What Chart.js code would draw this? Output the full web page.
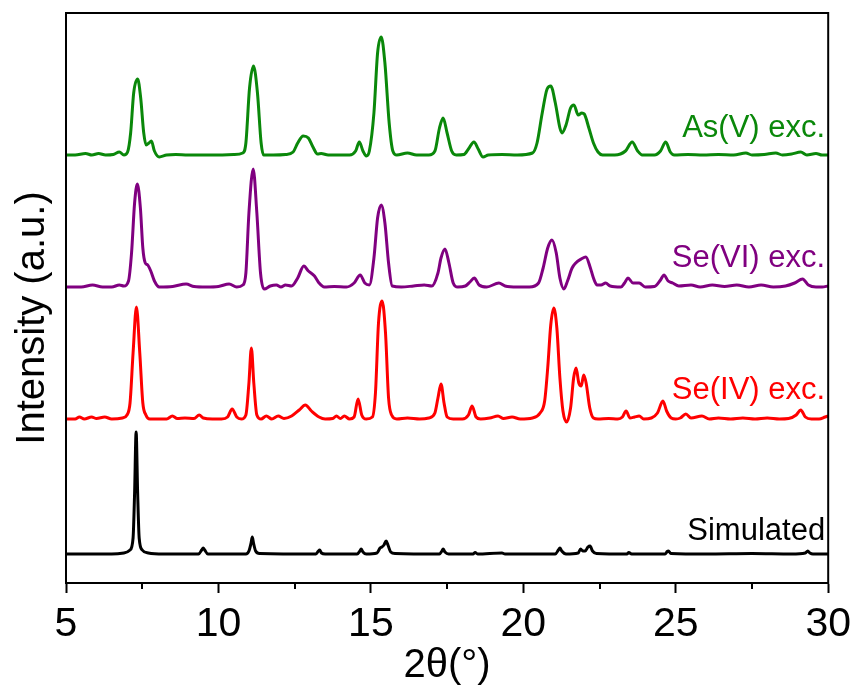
<!DOCTYPE html>
<html>
<head>
<meta charset="utf-8">
<script src="https://cdn.jsdelivr.net/npm/chart.js@4.4.0/dist/chart.umd.min.js"></script>
<style>
    html, body { margin: 0; padding: 0; background: #ffffff; }
    #wrap { width: 858px; height: 690px; }
</style>
</head>
<body>
<div id="wrap"><canvas id="xrdChart"></canvas></div>
<script>
// XRD patterns, stacked with offsets (a.u.)
const seriesNames = ['Simulated', 'Se(IV) exc.', 'Se(VI) exc.', 'As(V) exc.'];
const seriesColors = ['#000000', '#ff0000', '#800080', '#0a880a'];

const simulatedX = [5.0, 6.5, 6.9, 7.1, 7.2, 7.25, 7.3, 7.35, 7.4, 7.5, 7.7, 8.2, 9.35, 9.45, 9.5, 9.55, 9.65, 10.9, 11.0, 11.07, 11.11, 11.15, 11.22, 11.35, 13.2, 13.28, 13.32, 13.38, 13.5, 14.55, 14.64, 14.68, 14.74, 14.85, 15.2, 15.3, 15.36, 15.43, 15.5, 15.56, 15.65, 15.8, 17.25, 17.33, 17.37, 17.43, 17.55, 18.35, 18.42, 18.5, 19.3, 19.4, 21.05, 21.15, 21.2, 21.26, 21.4, 21.8, 21.88, 21.95, 22.03, 22.12, 22.19, 22.27, 22.4, 23.4, 23.46, 23.55, 24.65, 24.72, 24.76, 24.84, 26.0, 27.5, 28.8, 29.25, 29.33, 29.4, 29.5, 30.0];
const simulatedY = [29, 29, 30, 33, 45, 90, 151, 90, 45, 33, 30, 29, 29, 33, 35, 33, 29, 29, 32, 40, 46, 40, 32, 29.5, 29, 32, 33, 30, 29, 29, 32, 34, 31, 29, 30, 35, 36, 38, 42, 38, 31, 29.5, 29, 32, 34, 31, 29, 29, 30.5, 29, 30, 29, 29, 33, 35, 32, 29, 30, 34, 32, 32, 36, 37, 32, 29.5, 29, 30.5, 29, 29, 31.5, 32, 29.5, 29, 29.5, 29, 30, 32, 30, 29, 29];

const seIVX = [5.0, 5.3, 5.44, 5.6, 5.84, 6.0, 6.27, 6.5, 6.85, 7.0, 7.1, 7.2, 7.31, 7.42, 7.52, 7.62, 7.75, 8.0, 8.3, 8.49, 8.65, 8.9, 9.2, 9.37, 9.5, 9.8, 10.1, 10.3, 10.45, 10.6, 10.75, 10.9, 11.0, 11.08, 11.16, 11.26, 11.4, 11.57, 11.75, 11.96, 12.15, 12.4, 12.65, 12.85, 13.05, 13.3, 13.5, 13.75, 13.87, 14.0, 14.13, 14.3, 14.45, 14.58, 14.7, 14.85, 15.05, 15.15, 15.25, 15.37, 15.48, 15.58, 15.68, 15.85, 16.2, 16.6, 16.9, 17.1, 17.2, 17.3, 17.4, 17.5, 17.7, 18.0, 18.2, 18.32, 18.45, 18.6, 18.9, 19.17, 19.35, 19.63, 19.9, 20.3, 20.55, 20.7, 20.8, 20.9, 21.0, 21.1, 21.2, 21.3, 21.42, 21.55, 21.65, 21.73, 21.82, 21.9, 21.98, 22.06, 22.18, 22.3, 22.45, 22.8, 23.1, 23.25, 23.37, 23.5, 23.65, 23.8, 23.95, 24.2, 24.4, 24.58, 24.7, 24.85, 25.0, 25.15, 25.33, 25.5, 25.86, 26.1, 26.4, 26.8, 27.2, 27.6, 28.0, 28.4, 28.7, 28.95, 29.1, 29.25, 29.45, 29.7, 29.9, 30.0];
const seIVY = [164, 164, 166, 164, 166, 164.5, 166, 164, 165, 168, 180, 230, 276, 230, 180, 168, 164, 164, 164, 167, 164.5, 165, 164.5, 168, 165, 164, 164, 166, 174, 166, 164, 168, 200, 235, 200, 168, 164, 167, 164, 167, 164.5, 167, 173, 178, 172, 166, 164, 164.5, 167, 164.5, 167, 164, 166, 184, 168, 164, 166, 190, 260, 282, 250, 185, 168, 164, 165, 164, 165, 170, 185, 199, 180, 166, 164, 164, 168, 177, 166, 164, 165, 167, 164.5, 166, 164, 165, 170, 182, 215, 258, 275, 255, 205, 172, 161, 175, 205, 215, 200, 197, 208, 200, 175, 165, 164, 164.5, 164, 166, 172, 165, 166, 167, 164, 165, 170, 182, 172, 165, 164, 165, 169, 165, 167, 164, 165, 164, 165, 164, 165, 164, 164.5, 168, 173, 166, 164, 164, 166, 167];

const seVIX = [5.0, 5.5, 5.87, 6.2, 6.5, 6.75, 6.9, 7.05, 7.15, 7.25, 7.34, 7.44, 7.52, 7.6, 7.68, 7.78, 7.9, 8.06, 8.5, 8.94, 9.2, 9.6, 10.0, 10.35, 10.6, 10.8, 10.9, 11.0, 11.14, 11.26, 11.38, 11.5, 11.7, 11.9, 12.05, 12.2, 12.4, 12.6, 12.8, 12.95, 13.15, 13.3, 13.47, 13.8, 14.2, 14.45, 14.65, 14.8, 14.95, 15.1, 15.22, 15.34, 15.46, 15.58, 15.7, 16.0, 16.4, 16.75, 17.0, 17.2, 17.3, 17.43, 17.56, 17.7, 17.85, 18.1, 18.25, 18.39, 18.55, 18.8, 19.2, 19.4, 19.8, 20.2, 20.5, 20.65, 20.8, 20.94, 21.08, 21.2, 21.33, 21.45, 21.6, 21.72, 21.9, 22.05, 22.2, 22.3, 22.42, 22.55, 22.7, 22.85, 23.2, 23.32, 23.43, 23.6, 23.8, 24.0, 24.3, 24.5, 24.61, 24.75, 24.9, 25.1, 25.5, 25.8, 26.2, 26.6, 27.0, 27.4, 27.8, 28.2, 28.6, 28.9, 29.16, 29.35, 29.6, 29.8, 30.0];
const seVIY = [296, 296, 298, 296, 296, 298, 297, 302, 330, 380, 399, 375, 335, 320, 318, 312, 302, 296, 296.5, 299, 296.5, 296, 296.5, 299, 296, 298, 310, 370, 414, 370, 310, 294, 297, 298, 296, 298, 297, 305, 317, 312, 307, 300, 296, 296.5, 296, 300, 308, 300, 298, 325, 365, 378, 360, 320, 297, 296, 297, 298, 297, 310, 325, 334, 320, 300, 296, 297, 301, 305, 298, 296, 300, 297, 296, 296, 300, 315, 335, 343, 330, 305, 294, 302, 315, 320, 324, 326, 315, 305, 298, 298, 300, 297, 296, 300, 305, 300, 300, 296, 296.5, 303, 308, 302, 300, 297, 298, 296, 298, 296.5, 298, 296, 298, 296, 297, 300, 304, 298, 296, 296, 297];

const asVX = [5.0, 5.3, 5.64, 5.85, 6.07, 6.3, 6.55, 6.75, 6.9, 7.02, 7.12, 7.22, 7.35, 7.45, 7.55, 7.63, 7.72, 7.8, 7.9, 8.06, 8.3, 8.6, 9.0, 9.5, 10.0, 10.5, 10.8, 10.9, 11.02, 11.15, 11.28, 11.4, 11.48, 11.8, 12.2, 12.45, 12.6, 12.78, 12.95, 13.1, 13.25, 13.37, 13.6, 14.0, 14.3, 14.5, 14.62, 14.74, 14.85, 14.95, 15.1, 15.22, 15.34, 15.46, 15.6, 15.72, 15.85, 16.2, 16.5, 16.9, 17.1, 17.25, 17.37, 17.5, 17.65, 17.8, 18.05, 18.2, 18.38, 18.52, 18.68, 18.85, 19.3, 19.8, 20.3, 20.45, 20.62, 20.78, 20.9, 21.05, 21.2, 21.27, 21.4, 21.55, 21.66, 21.8, 21.92, 22.0, 22.15, 22.3, 22.45, 22.6, 23.0, 23.35, 23.57, 23.75, 23.9, 24.3, 24.5, 24.67, 24.82, 24.95, 25.4, 25.9, 26.4, 26.9, 27.3, 27.5, 27.9, 28.28, 28.5, 28.8, 29.1, 29.3, 29.6, 29.8, 30.0];
const asVY = [428, 428, 429.5, 428, 429.5, 428, 428.5, 431, 428, 431, 450, 490, 504, 485, 450, 438, 440, 442, 432, 426, 428, 428.5, 428, 428, 428, 428.5, 430, 440, 495, 517, 490, 440, 428, 428, 428.5, 431, 440, 447, 445, 436, 429, 429.5, 428, 428, 428, 432, 441, 432, 427, 432, 470, 530, 546, 520, 460, 432, 428, 430, 428, 428, 432, 455, 465, 450, 432, 428, 428.5, 434, 441, 434, 426, 428, 428.5, 428, 430, 440, 470, 494, 497, 480, 455, 450, 458, 475, 478, 468, 470, 469, 455, 440, 431, 428, 428, 432, 441, 432, 428, 428, 432, 441, 431, 428, 428.5, 428, 428.5, 428, 430, 428, 428.5, 430, 428, 429, 431, 428, 429.5, 428, 428];

const xTicks = [5, 10, 15, 20, 25, 30];
const labelBase = [43, 184, 316, 446];   // where each series name sits, in y units

const seriesX = [simulatedX, seIVX, seVIX, asVX];
const seriesY = [simulatedY, seIVY, seVIY, asVY];

const FONT = '"Liberation Sans", Arial, sans-serif';

function toPoints(xs, ys) {
    return xs.map((x, i) => ({ x: x, y: ys[i] }));
}

// frame, minor ticks, y title, series names
const decorPlugin = {
    id: 'decor',
    afterDraw(chart) {
        const ctx = chart.ctx;
        const area = chart.chartArea;
        const xs = chart.scales.x;
        const ys = chart.scales.y;
        ctx.save();
        ctx.strokeStyle = '#000';
        ctx.lineWidth = 2;
        ctx.strokeRect(area.left, area.top, area.right - area.left, area.bottom - area.top);

        // minor ticks
        for (let v = 7.5; v < 30; v += 5) {
            const px = Math.round(xs.getPixelForValue(v));
            ctx.beginPath();
            ctx.moveTo(px, area.bottom);
            ctx.lineTo(px, area.bottom + 6);
            ctx.stroke();
        }

        // y axis title, sits a little below the middle in the original
        ctx.save();
        ctx.translate(33, 318);
        ctx.rotate(-Math.PI / 2);
        ctx.font = '40px ' + FONT;
        ctx.fillStyle = '#000';
        ctx.textAlign = 'center';
        ctx.textBaseline = 'middle';
        ctx.fillText('Intensity (a.u.)', 0, 0);
        ctx.restore();

        ctx.font = '31px ' + FONT;
        ctx.textAlign = 'right';
        ctx.textBaseline = 'alphabetic';
        seriesNames.forEach((name, i) => {
            ctx.fillStyle = seriesColors[i];
            ctx.fillText(name, xs.getPixelForValue(29.9), ys.getPixelForValue(labelBase[i]));
        });
        ctx.restore();
    }
};

const ctx = document.getElementById('xrdChart');

new Chart(ctx, {
    type: 'line',
    data: {
        datasets: seriesNames.map((name, i) => ({
            label: name,
            data: toPoints(seriesX[i], seriesY[i]),
            borderColor: seriesColors[i],
            borderWidth: 3,
            pointRadius: 0,
            fill: false,
            cubicInterpolationMode: 'monotone'
        }))
    },
    options: {
        responsive: true,
        maintainAspectRatio: false,
        animation: false,
        layout: {
            padding: { top: 13, right: 28, left: 0, bottom: 0 }
        },
        plugins: {
            legend: { display: false },
            tooltip: { enabled: false }
        },
        scales: {
            x: {
                type: 'linear',
                min: 5,
                max: 30,
                afterFit: (scale) => { scale.height = 107; },
                afterBuildTicks: (scale) => {
                    scale.ticks = xTicks.map(v => ({ value: v }));
                },
                ticks: {
                    color: '#000',
                    font: { family: FONT, size: 41 },
                    padding: 7,
                    autoSkip: false,
                    maxRotation: 0
                },
                grid: {
                    drawOnChartArea: false,
                    tickLength: 10,
                    tickWidth: 2,
                    tickColor: '#000'
                },
                border: { display: true, color: '#000', width: 2 },
                title: {
                    display: true,
                    text: '2θ(°)',
                    color: '#000',
                    font: { family: FONT, size: 40 },
                    padding: { top: 0, bottom: 0 }
                }
            },
            y: {
                min: 0,
                max: 570,
                afterFit: (scale) => { scale.width = 66; },
                ticks: { display: false },
                grid: { display: false },
                border: { display: true, color: '#000', width: 2 }
            }
        }
    },
    plugins: [decorPlugin]
});
</script>
</body>
</html>
